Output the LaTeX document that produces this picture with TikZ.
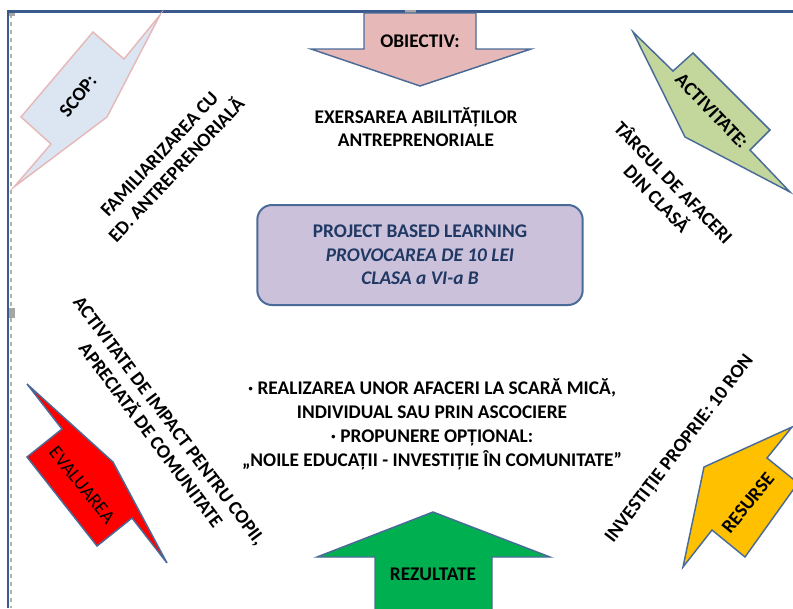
\documentclass[tikz,border=0pt]{standalone}
\usepackage{fontspec}
\setmainfont{Carlito}
\definecolor{framecol}{HTML}{3A5A8C}
\definecolor{edgecol}{HTML}{4A6B98}
\definecolor{objfill}{HTML}{E6B9B8}
\definecolor{scopfill}{HTML}{DCE6F2}
\definecolor{actfill}{HTML}{C3D69B}
\definecolor{evalfill}{HTML}{FF0000}
\definecolor{resfill}{HTML}{FFC000}
\definecolor{rezfill}{HTML}{00B050}
\definecolor{boxfill}{HTML}{CCC1DA}
\definecolor{boxtext}{HTML}{1F3864}

\begin{document}
\begin{tikzpicture}[x=0.75pt,y=-0.75pt]
\tikzset{ArrowStyle/.style ={draw=edgecol, line width=1.1pt, line join=miter},
         TextStyle/.style ={inner sep=0, align=center, font=\fontsize{14.5}{17.5}\selectfont\bfseries},
         TagStyle/.style ={inner sep=0, font=\fontsize{14.5}{17}\selectfont\bfseries}}
\useasboundingbox (0,0) rectangle (793,608);
% frame
\draw[gray!60, dashed, line width=0.8pt] (11,14) -- (11,608);
\draw[framecol, line width=1.6pt] (8,608) -- (8,11.5) -- (793,11.5);
\fill[gray!70] (9,12.5) rectangle (15,16);
\fill[gray!70] (405,9.5) rectangle (416,15);
\fill[gray!70] (9,308) rectangle (15,318);
% arrows
\filldraw[ArrowStyle, fill=objfill] (364,13) -- (476,13) -- (476,49) -- (531,49)
  -- (420,86) -- (311,49) -- (364,49) -- cycle;
\filldraw[ArrowStyle, fill=scopfill, draw=objfill] (160,15) -- (124,59) -- (93,32)
  -- (21,117) -- (51,144) -- (14,187) -- (107,117) -- cycle;
\filldraw[ArrowStyle, fill=actfill] (633,32) -- (673,71) -- (693,53) -- (770,130)
  -- (750,150) -- (790,192) -- (685,137) -- cycle;
\filldraw[ArrowStyle, fill=evalfill] (27,384) -- (62,429) -- (27,457) -- (97,546)
  -- (132,518) -- (167,563) -- (113,462) -- cycle;
\filldraw[ArrowStyle, fill=resfill] (792,427) -- (767,458) -- (798,483) -- (745,557)
  -- (712,530) -- (683,567) -- (704,467) -- cycle;
\filldraw[ArrowStyle, fill=rezfill] (433,512) -- (550,557) -- (492,557) -- (492,615)
  -- (375,615) -- (375,557) -- (317,557) -- cycle;
% tags
\node[TagStyle] (obiectiv) at (420,41) {OBIECTIV:};
\node[TagStyle, rotate=52] (scop) at (78,96) {SCOP:};
\node[TagStyle, rotate=-46] (activitate) at (712,111) {ACTIVITATE:};
\node[TagStyle, rotate=-51, font=\fontsize{14.5}{17}\selectfont] (evaluarea) at (82,485) {EVALUAREA};
\node[TagStyle, rotate=51] (resurse) at (748,503) {RESURSE};
\node[TagStyle] (rezultate) at (433,574) {REZULTATE};
% texts
\node[TextStyle, minimum width=244pt, minimum height=75pt, draw=edgecol, line width=1.5pt,
  fill=boxfill, rounded corners=11pt, text=boxtext] (title) at (420,255)
  {PROJECT BASED LEARNING\\ \itshape PROVOCAREA DE 10 LEI\\ \itshape CLASA a VI-a B};
\node[TextStyle] (exersare) at (416,127) {EXERSAREA ABILITĂȚILOR\\ ANTREPRENORIALE};
\node[TextStyle, rotate=47] (familiarizare) at (168,162) {FAMILIARIZAREA CU\\ ED. ANTREPRENORIALĂ};
\node[TextStyle, rotate=-46] (targul) at (666,190) {TÂRGUL DE AFACERI\\ DIN CLASĂ};
\node[TextStyle, rotate=-53] (impact) at (160,428) {ACTIVITATE DE IMPACT PENTRU COPII,\\ APRECIATĂ DE COMUNITATE};
\node[TextStyle, rotate=52.5] (investitie) at (680,449) {INVESTIȚIE PROPRIE: 10 RON};
\node[TextStyle, font=\fontsize{14.5}{18}\selectfont\bfseries] (afaceri) at (432,424)
  {· REALIZAREA UNOR AFACERI LA SCARĂ MICĂ,\\ INDIVIDUAL SAU PRIN ASCOCIERE\\
   · PROPUNERE OPȚIONAL:\\ „NOILE EDUCAȚII - INVESTIȚIE ÎN COMUNITATE”};
\end{tikzpicture}
\end{document}
